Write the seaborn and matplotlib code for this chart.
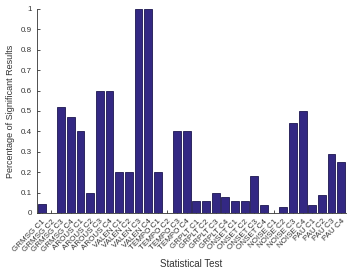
import matplotlib
matplotlib.use("Agg")
import matplotlib.pyplot as plt
import seaborn as sns

groups = ["GRMSG", "AROUS", "VALEN", "TEMPO", "GRPLT", "ONSET", "NOISE", "PAU"]
tests = [f"{g} C{i}" for g in groups for i in range(1, 5)]
values = [0.045, 0.0, 0.52, 0.47,
          0.40, 0.10, 0.60, 0.60,
          0.20, 0.20, 1.00, 1.00,
          0.20, 0.0, 0.40, 0.40,
          0.06, 0.06, 0.10, 0.08,
          0.06, 0.06, 0.18, 0.04,
          0.0, 0.03, 0.44, 0.50,
          0.04, 0.09, 0.29, 0.25]

sns.set_style("ticks")
plt.rcParams["font.family"] = ["Liberation Sans", "DejaVu Sans"]

fig = plt.figure(figsize=(3.55, 2.72), dpi=100)
ax = fig.add_axes([0.104, 0.217, 0.871, 0.75])
sns.barplot(x=tests, y=values, color="#332883", saturation=1, width=0.8,
            edgecolor="#1c1650", linewidth=0.6, ax=ax)

ax.set_ylim(0, 1)
ax.set_xlim(-0.5, 31.5)
ax.set_yticks([i / 10 for i in range(11)])
ax.set_yticklabels(["0", "0.1", "0.2", "0.3", "0.4", "0.5", "0.6", "0.7", "0.8", "0.9", "1"])
ax.tick_params(direction="in", length=2.5, width=0.6, labelsize=5.8, colors="#333333")
plt.xticks(rotation=45, ha="right", rotation_mode="anchor")
ax.set_ylabel("Percentage of Significant Results", fontsize=6.5, color="#333333")
ax.set_xlabel("Statistical Test", fontsize=7, color="#333333", labelpad=4)
sns.despine(ax=ax)
for s in ["left", "bottom"]:
    ax.spines[s].set_linewidth(0.6)
    ax.spines[s].set_color("#333333")

fig.savefig("out.png", dpi=100)
